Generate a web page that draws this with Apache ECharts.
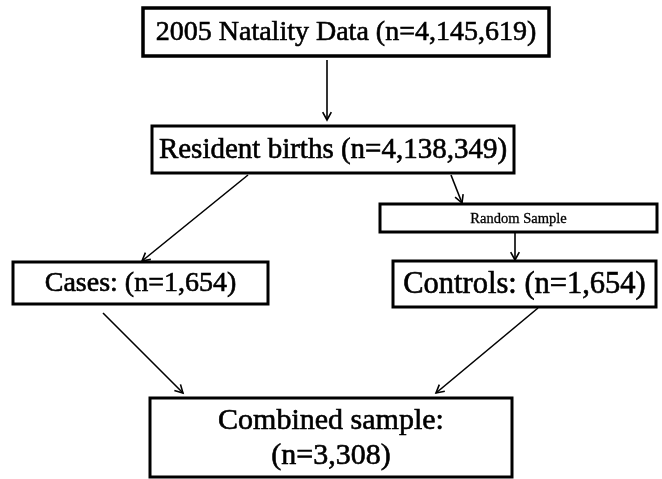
<!DOCTYPE html>
<html>
<head>
<meta charset="utf-8">
<script src="https://cdn.jsdelivr.net/npm/echarts@6/dist/echarts.min.js"></script>
<style>
  html, body { margin: 0; padding: 0; background: #fff; }
  #chart { width: 662px; height: 479px; }
</style>
</head>
<body>
<div id="chart"></div>
<script>
// flow stages and their counts (null = no count shown)
var stages = ['2005 Natality Data', 'Resident births', 'Random Sample', 'Cases:', 'Controls:', 'Combined sample:'];
var counts = [4145619, 4138349, null, 1654, 1654, 3308];
// arrows: [from stage, to stage]
var links = [[0, 1], [1, 3], [1, 2], [2, 4], [3, 5], [4, 5]];

// layout, in the 662x479 frame: [x0, y0, x1, y1]
var boxRects = [
    [143, 8, 549, 56],
    [152, 126, 514, 173],
    [380, 204, 657, 232],
    [13, 262, 268, 304],
    [393, 261, 656, 307],
    [150, 398, 512, 477]
];
// arrow start/end points, same order as links
var arrowPaths = [
    [327, 60, 327, 120],
    [248, 175, 142, 261],
    [451, 175, 462, 203],
    [515, 233, 515, 260],
    [103, 313, 183, 393],
    [538, 308, 436, 393]
];
var fontSizes = [28, 29, 14.5, 28, 30.5, 30];
var FONT = '"Liberation Serif", "DejaVu Serif", serif';

function fmt(n) {
    return n.toLocaleString('en-US');
}
function labelOf(i) {
    if (counts[i] == null) return stages[i];
    if (i === 5) return stages[i] + '\n(n=' + fmt(counts[i]) + ')';
    return stages[i] + ' (n=' + fmt(counts[i]) + ')';
}

var myChart = echarts.init(document.getElementById('chart'));
var option = {
    animation: false,
    grid: { left: 0, right: 0, top: 0, bottom: 0 },
    xAxis: { type: 'value', min: 0, max: 662, show: false },
    yAxis: { type: 'value', min: 0, max: 479, inverse: true, show: false },
    series: [
        {
            type: 'custom',
            coordinateSystem: 'cartesian2d',
            data: stages.map(function (s, i) { return [i]; }),
            renderItem: function (params, api) {
                var i = api.value(0);
                var r = boxRects[i];
                var p0 = api.coord([r[0], r[1]]);
                var p1 = api.coord([r[2], r[3]]);
                var size = fontSizes[i];
                return {
                    type: 'group',
                    children: [
                        {
                            type: 'rect',
                            shape: { x: p0[0], y: p0[1], width: p1[0] - p0[0], height: p1[1] - p0[1] },
                            style: { fill: '#fff', stroke: '#000', lineWidth: i === 0 ? 3.5 : 3 }
                        },
                        {
                            type: 'text',
                            style: {
                                text: labelOf(i),
                                x: (p0[0] + p1[0]) / 2,
                                y: (p0[1] + p1[1]) / 2 + 1,
                                align: 'center',
                                verticalAlign: 'middle',
                                fontFamily: FONT,
                                fontSize: size,
                                lineHeight: 35,
                                fill: '#000',
                                stroke: '#000',
                                lineWidth: i === 2 ? 0.3 : 0.6
                            }
                        }
                    ]
                };
            }
        },
        {
            type: 'custom',
            coordinateSystem: 'cartesian2d',
            data: links.map(function (l, i) { return [i]; }),
            renderItem: function (params, api) {
                var a = arrowPaths[api.value(0)];
                var s = api.coord([a[0], a[1]]);
                var e = api.coord([a[2], a[3]]);
                var ang = Math.atan2(e[1] - s[1], e[0] - s[0]);
                var len = 9, spread = 0.5;
                var h1 = [e[0] - len * Math.cos(ang - spread), e[1] - len * Math.sin(ang - spread)];
                var h2 = [e[0] - len * Math.cos(ang + spread), e[1] - len * Math.sin(ang + spread)];
                return {
                    type: 'group',
                    children: [
                        {
                            type: 'line',
                            shape: { x1: s[0], y1: s[1], x2: e[0], y2: e[1] },
                            style: { stroke: '#000', lineWidth: 1.6 }
                        },
                        {
                            type: 'polyline',
                            shape: { points: [h1, e, h2] },
                            style: { stroke: '#000', lineWidth: 1.6, fill: null }
                        }
                    ]
                };
            }
        }
    ]
};
myChart.setOption(option);
</script>
</body>
</html>
